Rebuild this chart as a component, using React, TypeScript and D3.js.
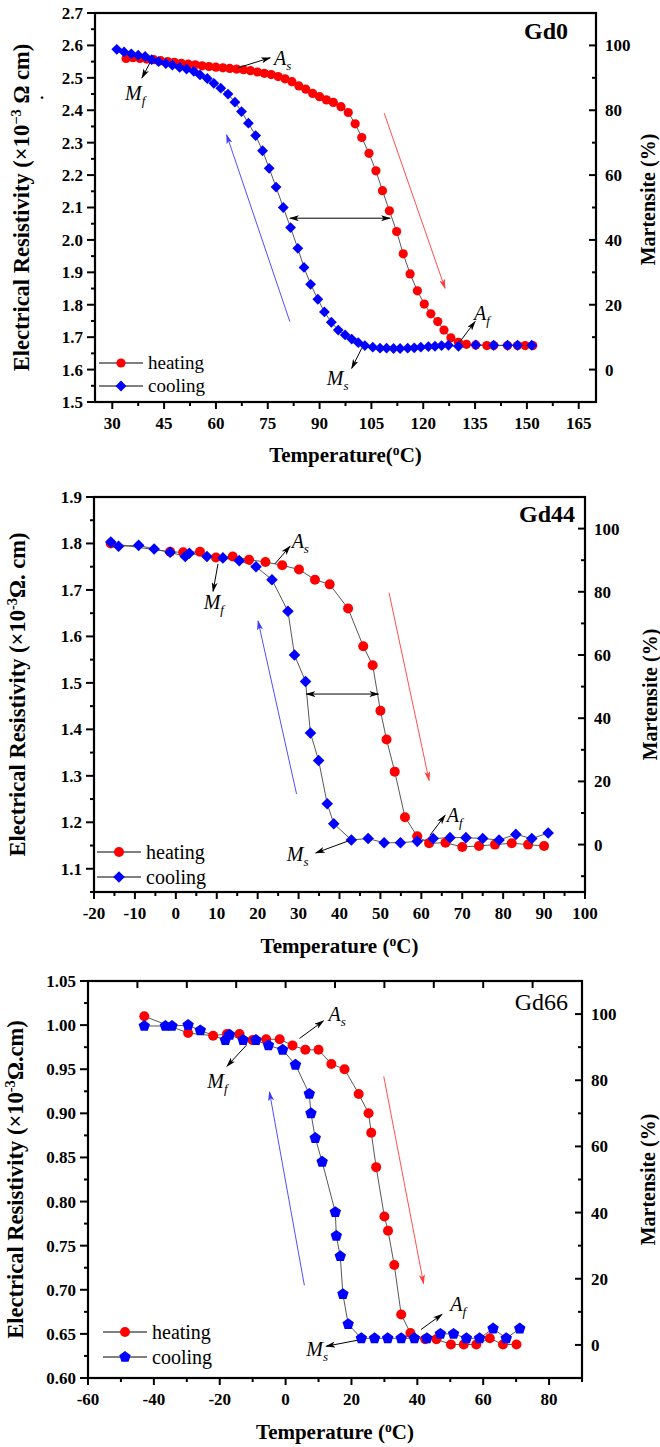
import React from "react";
import * as d3 from "d3";

type Pt = [number, number];

// ---------- Gd0 ----------
const gd0Heating: Pt[] = [
  [34, 2.56], [36, 2.562], [38, 2.56], [40, 2.558], [42, 2.556], [44, 2.553], [46, 2.55], [48, 2.548],
  [50, 2.545], [52, 2.542], [54, 2.54], [56, 2.537], [58, 2.535], [60, 2.533], [62, 2.531], [64, 2.529],
  [66, 2.527], [68, 2.525], [70, 2.522], [72, 2.518], [74, 2.514], [76, 2.51], [78, 2.504], [80, 2.497],
  [82, 2.488], [84, 2.475], [86, 2.465], [88, 2.452], [90, 2.442], [92, 2.432], [94, 2.424], [96.2, 2.411],
  [98.3, 2.393], [100.3, 2.358], [102.2, 2.316], [104.3, 2.267], [106.3, 2.213], [108.2, 2.152],
  [110.2, 2.09], [112.3, 2.026], [114.2, 1.957], [116.2, 1.895], [118.3, 1.843], [120.3, 1.802],
  [122.2, 1.772], [124.2, 1.748], [126, 1.722], [128, 1.698], [130.2, 1.684], [132.5, 1.678],
  [135.2, 1.676], [138.4, 1.674], [140.4, 1.674], [144.4, 1.674], [147.3, 1.674], [149.5, 1.674], [151.7, 1.674],
];
const gd0Cooling: Pt[] = [
  [31.3, 2.588], [33.4, 2.58], [35.5, 2.574], [37.5, 2.57], [39.5, 2.566], [41.4, 2.556], [43.4, 2.55],
  [45.5, 2.544], [47.4, 2.539], [49.5, 2.532], [51.5, 2.527], [53.6, 2.52], [55.4, 2.509], [57.5, 2.498],
  [59.4, 2.483], [61.4, 2.468], [63.5, 2.45], [65.5, 2.425], [67.4, 2.396], [69.4, 2.36], [71.5, 2.322],
  [73.5, 2.275], [75.4, 2.221], [77.4, 2.163], [79.5, 2.1], [81.6, 2.038], [83.7, 1.974], [85.5, 1.915],
  [87.4, 1.863], [89.5, 1.817], [91.4, 1.778], [93.4, 1.746], [95.4, 1.722], [97.4, 1.707], [99.3, 1.694],
  [101.2, 1.683], [103.1, 1.674], [105.4, 1.669], [107.5, 1.666], [109.4, 1.666], [111.4, 1.665],
  [113.3, 1.665], [115.5, 1.666], [117.4, 1.667], [119.3, 1.669], [121.5, 1.671], [123.4, 1.672],
  [125.3, 1.674], [127.3, 1.675], [130.2, 1.672], [135.2, 1.676], [140.4, 1.675], [144.4, 1.675],
  [147.3, 1.675], [151.4, 1.675],
];
const gd0XTicks = [30, 45, 60, 75, 90, 105, 120, 135, 150, 165];
const gd0YTicks = [1.5, 1.6, 1.7, 1.8, 1.9, 2.0, 2.1, 2.2, 2.3, 2.4, 2.5, 2.6, 2.7];

// ---------- Gd44 ----------
const gd44Heating: Pt[] = [
  [-15.9, 1.8], [-1.4, 1.782], [1.8, 1.781], [5.9, 1.782], [9.8, 1.77], [13.9, 1.772], [17.9, 1.765],
  [21.9, 1.76], [26, 1.753], [30.1, 1.744], [34, 1.722], [37.6, 1.712], [42.1, 1.66], [45.8, 1.579],
  [48.1, 1.538], [50, 1.44], [51.5, 1.378], [53.5, 1.309], [56, 1.211], [59, 1.17], [61.9, 1.155],
  [65.9, 1.156], [70, 1.147], [74.1, 1.149], [78, 1.152], [82.1, 1.155], [86.1, 1.152], [90, 1.149],
];
const gd44Cooling: Pt[] = [
  [-15.9, 1.803], [-14, 1.794], [-9.1, 1.796], [-5.3, 1.788], [-1.4, 1.781], [2.3, 1.772], [3.3, 1.779],
  [7.6, 1.772], [11.5, 1.769], [15.5, 1.763], [19.6, 1.75], [23.5, 1.722], [27.4, 1.654], [29, 1.56],
  [31.7, 1.503], [32.9, 1.392], [34.9, 1.333], [37, 1.24], [38.6, 1.197], [42.9, 1.162], [47, 1.165],
  [50.9, 1.156], [54.9, 1.156], [59, 1.159], [62.9, 1.165], [67, 1.167], [70.9, 1.167], [75, 1.165],
  [79, 1.162], [83.1, 1.174], [87, 1.165], [91, 1.177],
];
const gd44XTicks = [-20, -10, 0, 10, 20, 30, 40, 50, 60, 70, 80, 90, 100];
const gd44YTicks = [1.1, 1.2, 1.3, 1.4, 1.5, 1.6, 1.7, 1.8, 1.9];

// ---------- Gd66 ----------
const gd66Heating: Pt[] = [
  [-42.9, 1.01], [-29.6, 0.991], [-22, 0.988], [-17.8, 0.99], [-14, 0.99], [-10, 0.983], [-5.9, 0.984],
  [-1.8, 0.984], [2.1, 0.977], [6, 0.972], [10, 0.972], [13.9, 0.956], [17.9, 0.95], [22.2, 0.922],
  [25.2, 0.9], [26, 0.878], [27.5, 0.839], [30, 0.783], [31.1, 0.767], [33, 0.728], [35.1, 0.672],
  [37.9, 0.651], [42.4, 0.644], [45.8, 0.644], [50.2, 0.638], [54.1, 0.638], [57.9, 0.638], [62, 0.645],
  [66, 0.638], [70.1, 0.638],
];
const gd66Cooling: Pt[] = [
  [-42.9, 0.999], [-36.5, 0.999], [-34.5, 0.999], [-29.6, 1.0], [-25.9, 0.994], [-18.3, 0.983],
  [-17, 0.989], [-12.9, 0.983], [-9, 0.983], [-5.2, 0.977], [-0.9, 0.972], [3, 0.955], [7.2, 0.922],
  [7.7, 0.9], [9, 0.872], [11.1, 0.845], [15.1, 0.788], [15.4, 0.761], [16.6, 0.738], [17.4, 0.695],
  [19, 0.661], [23, 0.645], [27, 0.645], [31, 0.645], [35.1, 0.645], [39.1, 0.645], [42.9, 0.645],
  [47, 0.65], [51, 0.65], [54.9, 0.645], [58.9, 0.645], [63, 0.656], [67, 0.645], [71.1, 0.656],
];
const gd66XTicks = [-60, -40, -20, 0, 20, 40, 60, 80];
const gd66TopTicks = [-45, -30, -15, 0, 15, 30, 45, 60, 75];
const gd66YTicks = [0.6, 0.65, 0.7, 0.75, 0.8, 0.85, 0.9, 0.95, 1.0, 1.05];

const pctTicks = [0, 20, 40, 60, 80, 100];

const serif = "'Liberation Serif', 'Times New Roman', serif";

type Arrow = { from: Pt; to: Pt; color?: string; double?: boolean };
type Label = { at: Pt; main: string; sub: string };

interface PanelCfg {
  id: string;
  name: string;
  nameBold: boolean;
  nameDx: number;
  nameDy: number;
  left: number; right: number; top: number; bottom: number;
  xDomain: [number, number];
  yDomain: [number, number];
  pDomain: [number, number];
  xTicks: number[];
  xMinorStep: number;
  yTicks: number[];
  yMinorStep: number;
  yFmt: string;
  topTicks?: number[];
  heating: Pt[];
  cooling: Pt[];
  coolShape: "diamond" | "pentagon";
  rCirc: number;
  rCool: number;
  xTitle: React.ReactNode;
  yTitle: React.ReactNode;
  xTitleY: number;
  yTitleX: number;
  pTitleX: number;
  pTitleDy: number;
  legend: { x0: number; y0: number; gap: number; size: number };
  arrows: Arrow[];
  labels: Label[];
}

const diamondPath = (s: number) => `M0,${-s}L${s},0L0,${s}L${-s},0Z`;
const pentagonPath = (s: number) =>
  d3.range(5).map((k) => {
    const a = -Math.PI / 2 + (k * 2 * Math.PI) / 5;
    return `${k ? "L" : "M"}${(s * Math.cos(a)).toFixed(2)},${(s * Math.sin(a)).toFixed(2)}`;
  }).join("") + "Z";

const minors = (major: number[], step: number, dom: [number, number]) => {
  const out: number[] = [];
  const lo = Math.min(...dom), hi = Math.max(...dom);
  for (let v = major[0] - step * 2; v <= hi + 1e-9; v += step) {
    if (v < lo - 1e-9) continue;
    if (major.some((m) => Math.abs(m - v) < 1e-6)) continue;
    out.push(+v.toFixed(6));
  }
  return out;
};

function Panel({ cfg }: { cfg: PanelCfg }) {
  const x = d3.scaleLinear().domain(cfg.xDomain).range([cfg.left, cfg.right]);
  const y = d3.scaleLinear().domain(cfg.yDomain).range([cfg.bottom, cfg.top]);
  const p = d3.scaleLinear().domain(cfg.pDomain).range([cfg.bottom, cfg.top]);
  const line = d3.line<Pt>().x((d) => x(d[0])).y((d) => y(d[1]));
  const fmt = d3.format(cfg.yFmt);
  const coolD = cfg.coolShape === "diamond" ? diamondPath(cfg.rCool) : pentagonPath(cfg.rCool);
  const xMin = minors(cfg.xTicks, cfg.xMinorStep, cfg.xDomain);
  const yMin = minors(cfg.yTicks, cfg.yMinorStep, cfg.yDomain);
  const pMin = minors(pctTicks, 10, cfg.pDomain);
  const { x0, y0, gap, size } = cfg.legend;
  const midY = (cfg.top + cfg.bottom) / 2;
  const tickFont = { fontFamily: serif, fontWeight: "bold" as const, fontSize: 17 };

  return (
    <g>
      <defs>
        {[["k", "#000"], ["b", "#3b3bff"], ["r", "#ff3b3b"]].map(([k, c]) => (
          <marker key={k} id={`${cfg.id}-ah-${k}`} markerUnits="userSpaceOnUse" markerWidth={10} markerHeight={6}
            refX={9} refY={3} orient="auto-start-reverse" viewBox="0 0 10 6">
            <path d="M0,0L10,3L0,6L2.5,3Z" fill={c} />
          </marker>
        ))}
      </defs>

      {/* series lines */}
      <path d={line(cfg.heating) || ""} fill="none" stroke="#444" strokeWidth={0.9} />
      <path d={line(cfg.cooling) || ""} fill="none" stroke="#444" strokeWidth={0.9} />
      {cfg.heating.map((d, i) => (
        <circle key={`h${i}`} cx={x(d[0])} cy={y(d[1])} r={cfg.rCirc} fill="#ff0000" />
      ))}
      {cfg.cooling.map((d, i) => (
        <path key={`c${i}`} d={coolD} transform={`translate(${x(d[0])},${y(d[1])})`} fill="#0000ff" />
      ))}

      {/* annotation arrows */}
      {cfg.arrows.map((a, i) => {
        const k = a.color === "blue" ? "b" : a.color === "red" ? "r" : "k";
        const col = k === "b" ? "#3b3bff" : k === "r" ? "#ff3b3b" : "#000";
        return (
          <line key={`a${i}`} x1={x(a.from[0])} y1={y(a.from[1])} x2={x(a.to[0])} y2={y(a.to[1])}
            stroke={col} strokeWidth={k === "k" ? 1 : 0.9}
            markerEnd={`url(#${cfg.id}-ah-${k})`}
            markerStart={a.double ? `url(#${cfg.id}-ah-${k})` : undefined} />
        );
      })}
      {cfg.labels.map((l, i) => (
        <text key={`l${i}`} x={x(l.at[0])} y={y(l.at[1])} fontFamily={serif} fontStyle="italic" fontSize={20}>
          {l.main}
          <tspan fontSize={13} dy={5}>{l.sub}</tspan>
        </text>
      ))}

      {/* frame */}
      <rect x={cfg.left} y={cfg.top} width={cfg.right - cfg.left} height={cfg.bottom - cfg.top}
        fill="none" stroke="#000" strokeWidth={2.2} />

      {/* bottom axis */}
      {cfg.xTicks.map((t) => (
        <g key={`xt${t}`}>
          <line x1={x(t)} x2={x(t)} y1={cfg.bottom} y2={cfg.bottom + 7} stroke="#000" strokeWidth={2} />
          <text x={x(t)} y={cfg.bottom + 27} textAnchor="middle" {...tickFont}>{String(t)}</text>
        </g>
      ))}
      {xMin.map((t) => (
        <line key={`xm${t}`} x1={x(t)} x2={x(t)} y1={cfg.bottom} y2={cfg.bottom + 4} stroke="#000" strokeWidth={2} />
      ))}
      {(cfg.topTicks || []).map((t) => (
        <line key={`tt${t}`} x1={x(t)} x2={x(t)} y1={cfg.top} y2={cfg.top + 7} stroke="#000" strokeWidth={2} />
      ))}

      {/* left axis */}
      {cfg.yTicks.map((t) => (
        <g key={`yt${t}`}>
          <line x1={cfg.left - 8} x2={cfg.left} y1={y(t)} y2={y(t)} stroke="#000" strokeWidth={2} />
          <text x={cfg.left - 12} y={y(t)} dy="0.35em" textAnchor="end" {...tickFont}>{fmt(t)}</text>
        </g>
      ))}
      {yMin.map((t) => (
        <line key={`ym${t}`} x1={cfg.left - 4} x2={cfg.left} y1={y(t)} y2={y(t)} stroke="#000" strokeWidth={2} />
      ))}

      {/* right axis (percent) */}
      {pctTicks.map((t) => (
        <g key={`pt${t}`}>
          <line x1={cfg.right - 7} x2={cfg.right} y1={p(t)} y2={p(t)} stroke="#000" strokeWidth={2} />
          <text x={cfg.right + 9} y={p(t)} dy="0.35em" textAnchor="start" {...tickFont}>{String(t)}</text>
        </g>
      ))}
      {pMin.map((t) => (
        <line key={`pm${t}`} x1={cfg.right - 4} x2={cfg.right} y1={p(t)} y2={p(t)} stroke="#000" strokeWidth={2} />
      ))}

      {/* titles */}
      <text x={(cfg.left + cfg.right) / 2} y={cfg.xTitleY} textAnchor="middle" fontFamily={serif}
        fontWeight="bold" fontSize={21}>{cfg.xTitle}</text>
      <text transform={`translate(${cfg.yTitleX},${midY}) rotate(-90)`} textAnchor="middle" fontFamily={serif}
        fontWeight="bold" fontSize={22.5}>{cfg.yTitle}</text>
      <text transform={`translate(${cfg.pTitleX},${midY + cfg.pTitleDy}) rotate(-90)`} textAnchor="middle"
        fontFamily={serif} fontWeight="bold" fontSize={20}>Martensite (%)</text>
      <text x={cfg.right - cfg.nameDx} y={cfg.top + cfg.nameDy} textAnchor="end" fontFamily={serif}
        fontWeight={cfg.nameBold ? "bold" : "normal"} fontSize={24}>{cfg.name}</text>

      {/* legend */}
      {[["heating", "h"], ["cooling", "c"]].map(([txt, k], i) => {
        const ly = y0 + i * gap;
        return (
          <g key={txt}>
            <line x1={x0} x2={x0 + 44} y1={ly} y2={ly} stroke="#000" strokeWidth={1} />
            {k === "h" ? (
              <circle cx={x0 + 22} cy={ly} r={cfg.rCirc} fill="#ff0000" />
            ) : (
              <path d={coolD} transform={`translate(${x0 + 22},${ly})`} fill="#0000ff" />
            )}
            <text x={x0 + 49} y={ly} dy="0.33em" fontFamily={serif} fontSize={size}>{txt}</text>
          </g>
        );
      })}
    </g>
  );
}

const sup = (s: string) => (
  <tspan baselineShift="super" fontSize="0.65em">{s}</tspan>
);

const panels: PanelCfg[] = [
  {
    id: "p0", name: "Gd0", nameBold: true, nameDx: 28, nameDy: 26,
    left: 95, right: 596, top: 13, bottom: 402,
    xDomain: [25, 170], yDomain: [1.5, 2.7], pDomain: [-10, 110],
    xTicks: gd0XTicks, xMinorStep: 7.5, yTicks: gd0YTicks, yMinorStep: 0.05, yFmt: ".1f",
    heating: gd0Heating, cooling: gd0Cooling, coolShape: "diamond", rCirc: 4.6, rCool: 5.4,
    xTitle: <>Temperature({sup("o")}C)</>,
    yTitle: <>Electrical Resistivity (×10{sup("−3")} Ω cm)</>,
    xTitleY: 462, yTitleX: 29, pTitleX: 655, pTitleDy: -8,
    legend: { x0: 99, y0: 363, gap: 23, size: 19 },
    arrows: [
      { from: [66.4, 2.531], to: [75.7, 2.562] },
      { from: [40.9, 2.546], to: [38.6, 2.5] },
      { from: [81.4, 2.067], to: [110.4, 2.067], double: true },
      { from: [81.4, 1.748], to: [63.1, 2.324], color: "blue" },
      { from: [108.7, 2.391], to: [126.3, 1.851], color: "red" },
      { from: [130.6, 1.686], to: [135, 1.748] },
      { from: [102.2, 1.666], to: [99.3, 1.604] },
    ],
    labels: [
      { at: [76.8, 2.54], main: "A", sub: "s" },
      { at: [33.7, 2.432], main: "M", sub: "f" },
      { at: [134.7, 1.753], main: "A", sub: "f" },
      { at: [92.1, 1.552], main: "M", sub: "s" },
    ],
  },
  {
    id: "p1", name: "Gd44", nameBold: true, nameDx: 10, nameDy: 25,
    left: 94, right: 585, top: 497, bottom: 892,
    xDomain: [-20, 100], yDomain: [1.05, 1.9], pDomain: [-15, 110],
    xTicks: gd44XTicks, xMinorStep: 5, yTicks: gd44YTicks, yMinorStep: 0.05, yFmt: ".1f",
    heating: gd44Heating, cooling: gd44Cooling, coolShape: "diamond", rCirc: 5, rCool: 5.8,
    xTitle: <>Temperature ({sup("o")}C)</>,
    yTitle: <>Electrical Resistivity (×10{sup("-3")}Ω. cm)</>,
    xTitleY: 953, yTitleX: 25, pTitleX: 657, pTitleDy: 0,
    legend: { x0: 97, y0: 852, gap: 25, size: 20 },
    arrows: [
      { from: [24.2, 1.756], to: [27.9, 1.794] },
      { from: [10.3, 1.756], to: [9.1, 1.697] },
      { from: [31.9, 1.476], to: [49.5, 1.476], double: true },
      { from: [29.5, 1.261], to: [20.1, 1.633], color: "blue" },
      { from: [52.1, 1.694], to: [61.9, 1.29], color: "red" },
      { from: [62.1, 1.172], to: [65.8, 1.215] },
      { from: [42.5, 1.161], to: [34.2, 1.134] },
    ],
    labels: [
      { at: [28.3, 1.79], main: "A", sub: "s" },
      { at: [6.8, 1.659], main: "M", sub: "f" },
      { at: [66.2, 1.2], main: "A", sub: "f" },
      { at: [27.1, 1.116], main: "M", sub: "s" },
    ],
  },
  {
    id: "p2", name: "Gd66", nameBold: false, nameDx: 14, nameDy: 29,
    left: 88, right: 582, top: 981, bottom: 1378,
    xDomain: [-60, 90], yDomain: [0.6, 1.05], pDomain: [-10, 110],
    xTicks: gd66XTicks, xMinorStep: 10, yTicks: gd66YTicks, yMinorStep: 0.025, yFmt: ".2f",
    topTicks: gd66TopTicks,
    heating: gd66Heating, cooling: gd66Cooling, coolShape: "pentagon", rCirc: 5, rCool: 6,
    xTitle: <>Temperature ({sup("o")}C)</>,
    yTitle: <>Electrical Resistivity (×10{sup("-3")}Ω.cm)</>,
    xTitleY: 1439, yTitleX: 23, pTitleX: 655, pTitleDy: 0,
    legend: { x0: 103, y0: 1332, gap: 25, size: 20 },
    arrows: [
      { from: [4.2, 0.9848], to: [11.5, 1.0048] },
      { from: [-11.9, 0.9772], to: [-17.8, 0.9534] },
      { from: [5.7, 0.705], to: [-4.9, 0.9243], color: "blue" },
      { from: [29.8, 0.942], to: [41.9, 0.707], color: "red" },
      { from: [41.1, 0.6549], to: [47.5, 0.6722] },
      { from: [21.7, 0.6427], to: [12.3, 0.636] },
    ],
    labels: [
      { at: [13, 1.0044], main: "A", sub: "s" },
      { at: [-23.8, 0.9285], main: "M", sub: "f" },
      { at: [50, 0.6756], main: "A", sub: "f" },
      { at: [6.3, 0.6246], main: "M", sub: "s" },
    ],
  },
];

export default function App() {
  return (
    <svg width={660} height={1447} viewBox="0 0 660 1447"
      style={{ position: "absolute", left: 0, top: 0, background: "#fff" }}>
      <rect width={660} height={1447} fill="#fff" />
      {panels.map((c) => (
        <Panel key={c.id} cfg={c} />
      ))}
      {/* stray dot next to the first y title */}
      <text x={40} y={99} fontFamily={serif} fontWeight="bold" fontSize={16}>.</text>
    </svg>
  );
}
